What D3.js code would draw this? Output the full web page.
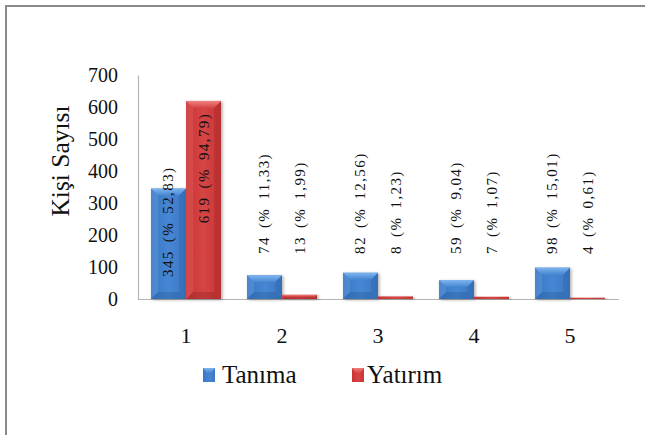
<!DOCTYPE html>
<html>
<head>
<meta charset="utf-8">
<script src="https://cdn.jsdelivr.net/npm/d3@7"></script>
<style>
  html, body { margin: 0; padding: 0; background: #fff; }
  svg { display: block; }
  text { font-family: "Liberation Serif", "Times New Roman", serif; fill: #111; }
</style>
</head>
<body>
<svg id="chart" width="645" height="435"></svg>
<script>
// Groups on the x axis and the two series
const categories = ["1", "2", "3", "4", "5"];
const seriesNames = ["Tanıma", "Yatırım"];
const tanima = [345, 74, 82, 59, 98];
const yatirim = [619, 13, 8, 7, 4];
const tanimaPct = ["52,83", "11,33", "12,56", "9,04", "15,01"];
const yatirimPct = ["94,79", "1,99", "1,23", "1,07", "0,61"];
const yTicks = [0, 100, 200, 300, 400, 500, 600, 700];
const yTitle = "Kişi Sayısı";

const svg = d3.select("#chart");

// frame of the chart area
svg.append("rect")
  .attr("x", 6).attr("y", 6).attr("width", 720).attr("height", 520)
  .attr("fill", "none").attr("stroke", "#8a8a8a").attr("stroke-width", 2);

const plot = { left: 138, right: 618, top: 75, bottom: 299 };

const y = d3.scaleLinear().domain([0, 700]).range([plot.bottom, plot.top]);
const x = d3.scaleBand().domain(categories)
  .range([plot.left, plot.right]).paddingInner(0.27).paddingOuter(0.135);
const xs = d3.scaleBand().domain(seriesNames).range([0, x.bandwidth()]);

const palettes = {
  "Tanıma": { base: "#3a78c5", light: "#7fb4ef", dark: "#2a5c9c", side: "#4686d2" },
  "Yatırım": { base: "#c93434", light: "#f08080", dark: "#972626", side: "#d64545" }
};

// gradients and a soft shadow for the bevelled bars
const defs = svg.append("defs");
const f = defs.append("filter").attr("id", "shadow")
  .attr("x", "-20%").attr("y", "-20%").attr("width", "150%").attr("height", "150%");
f.append("feDropShadow").attr("dx", 1.5).attr("dy", 1).attr("stdDeviation", 1.4)
  .attr("flood-color", "#000").attr("flood-opacity", 0.3);
seriesNames.forEach((s, i) => {
  const p = palettes[s];
  const g = defs.append("linearGradient").attr("id", "top" + i)
    .attr("x1", 0).attr("y1", 0).attr("x2", 0).attr("y2", 1);
  g.append("stop").attr("offset", 0).attr("stop-color", p.light);
  g.append("stop").attr("offset", 1).attr("stop-color", p.side);
  const b = defs.append("linearGradient").attr("id", "body" + i)
    .attr("x1", 0).attr("y1", 0).attr("x2", 1).attr("y2", 0);
  b.append("stop").attr("offset", 0).attr("stop-color", p.base);
  b.append("stop").attr("offset", 0.5).attr("stop-color", p.side);
  b.append("stop").attr("offset", 1).attr("stop-color", p.base);
});

// axes
const yAxis = svg.append("g").attr("transform", `translate(${plot.left},0)`)
  .call(d3.axisLeft(y).tickValues(yTicks).tickSize(0).tickPadding(20));
yAxis.select(".domain").attr("stroke", "#b4b4b4").attr("stroke-width", 1.2);
yAxis.selectAll("text").attr("font-size", 20).attr("fill", "#111");

const xAxis = svg.append("g").attr("transform", `translate(0,${plot.bottom})`)
  .call(d3.axisBottom(x).tickSize(0).tickSizeOuter(0));
xAxis.select(".domain").attr("d", `M${plot.left},0.5H${plot.right + 1}`)
  .attr("stroke", "#b4b4b4").attr("stroke-width", 1.2);
xAxis.selectAll("text").attr("y", 44).attr("dy", null)
  .attr("font-size", 22).attr("fill", "#111");

// bars
const rows = [];
categories.forEach((c, i) => {
  rows.push({ cat: c, s: seriesNames[0], si: 0, v: tanima[i], pct: tanimaPct[i] });
  rows.push({ cat: c, s: seriesNames[1], si: 1, v: yatirim[i], pct: yatirimPct[i] });
});

const bars = svg.append("g").selectAll("g").data(rows).join("g")
  .attr("filter", "url(#shadow)");
bars.each(function (d) {
  const g = d3.select(this);
  const p = palettes[d.s];
  const x0 = x(d.cat) + xs(d.s), w = xs.bandwidth();
  const y0 = y(d.v), h = y(0) - y(d.v);
  g.append("rect").attr("x", x0).attr("y", y0).attr("width", w).attr("height", h)
    .attr("fill", `url(#body${d.si})`);
  const b = Math.min(7, h / 2.3);
  if (h > 4) {
    // bottom, side and top bevel faces
    g.append("path").attr("fill", p.dark).attr("opacity", 0.4)
      .attr("d", `M${x0},${y0 + h}L${x0 + w},${y0 + h}L${x0 + w - b},${y0 + h - b}L${x0 + b},${y0 + h - b}Z`);
    g.append("path").attr("fill", p.dark).attr("opacity", 0.3)
      .attr("d", `M${x0 + w},${y0}L${x0 + w},${y0 + h}L${x0 + w - b},${y0 + h - b}L${x0 + w - b},${y0 + b}Z`);
    g.append("path").attr("fill", p.light).attr("opacity", 0.25)
      .attr("d", `M${x0},${y0}L${x0},${y0 + h}L${x0 + b},${y0 + h - b}L${x0 + b},${y0 + b}Z`);
    g.append("path").attr("fill", `url(#top${d.si})`)
      .attr("d", `M${x0},${y0}L${x0 + w},${y0}L${x0 + w - b},${y0 + b}L${x0 + b},${y0 + b}Z`);
  }
});

// value labels, rotated; inside the tall bars, above the short ones
const labels = svg.append("g").selectAll("text").data(rows).join("text")
  .attr("font-size", 15).attr("letter-spacing", 1.4).attr("word-spacing", 3)
  .attr("fill", "#222")
  .text(d => `${d.v} (% ${d.pct})`)
  .each(function (d) {
    const cx = x(d.cat) + xs(d.s) + xs.bandwidth() / 2 + 5;
    const h = y(0) - y(d.v);
    let ty, anchor;
    if (h > 160) { ty = y(d.v) + 12; anchor = "end"; }
    else if (h > 100) { ty = y(0) - 22; anchor = "start"; }
    else { ty = y(0) - 45; anchor = "start"; }
    d3.select(this).attr("text-anchor", anchor)
      .attr("transform", `translate(${cx},${ty}) rotate(-90)`);
  });

// y axis title
svg.append("text")
  .attr("transform", `translate(69,161) rotate(-90)`)
  .attr("text-anchor", "middle").attr("font-size", 25.5).attr("fill", "#111")
  .text(yTitle);

// legend
const legendX = [203, 352];
const legend = svg.append("g").selectAll("g").data(seriesNames).join("g")
  .attr("transform", (d, i) => `translate(${legendX[i]},368)`);
legend.append("rect").attr("width", 12).attr("height", 14)
  .attr("fill", (d, i) => `url(#body${i})`);
legend.append("path")
  .attr("d", "M0,0L12,0L8,5L4,5Z")
  .attr("fill", (d, i) => `url(#top${i})`);
legend.append("text").attr("x", (d, i) => i === 0 ? 19 : 15).attr("y", 15)
  .attr("font-size", 25).attr("fill", "#111")
  .text(d => d);
</script>
</body>
</html>
